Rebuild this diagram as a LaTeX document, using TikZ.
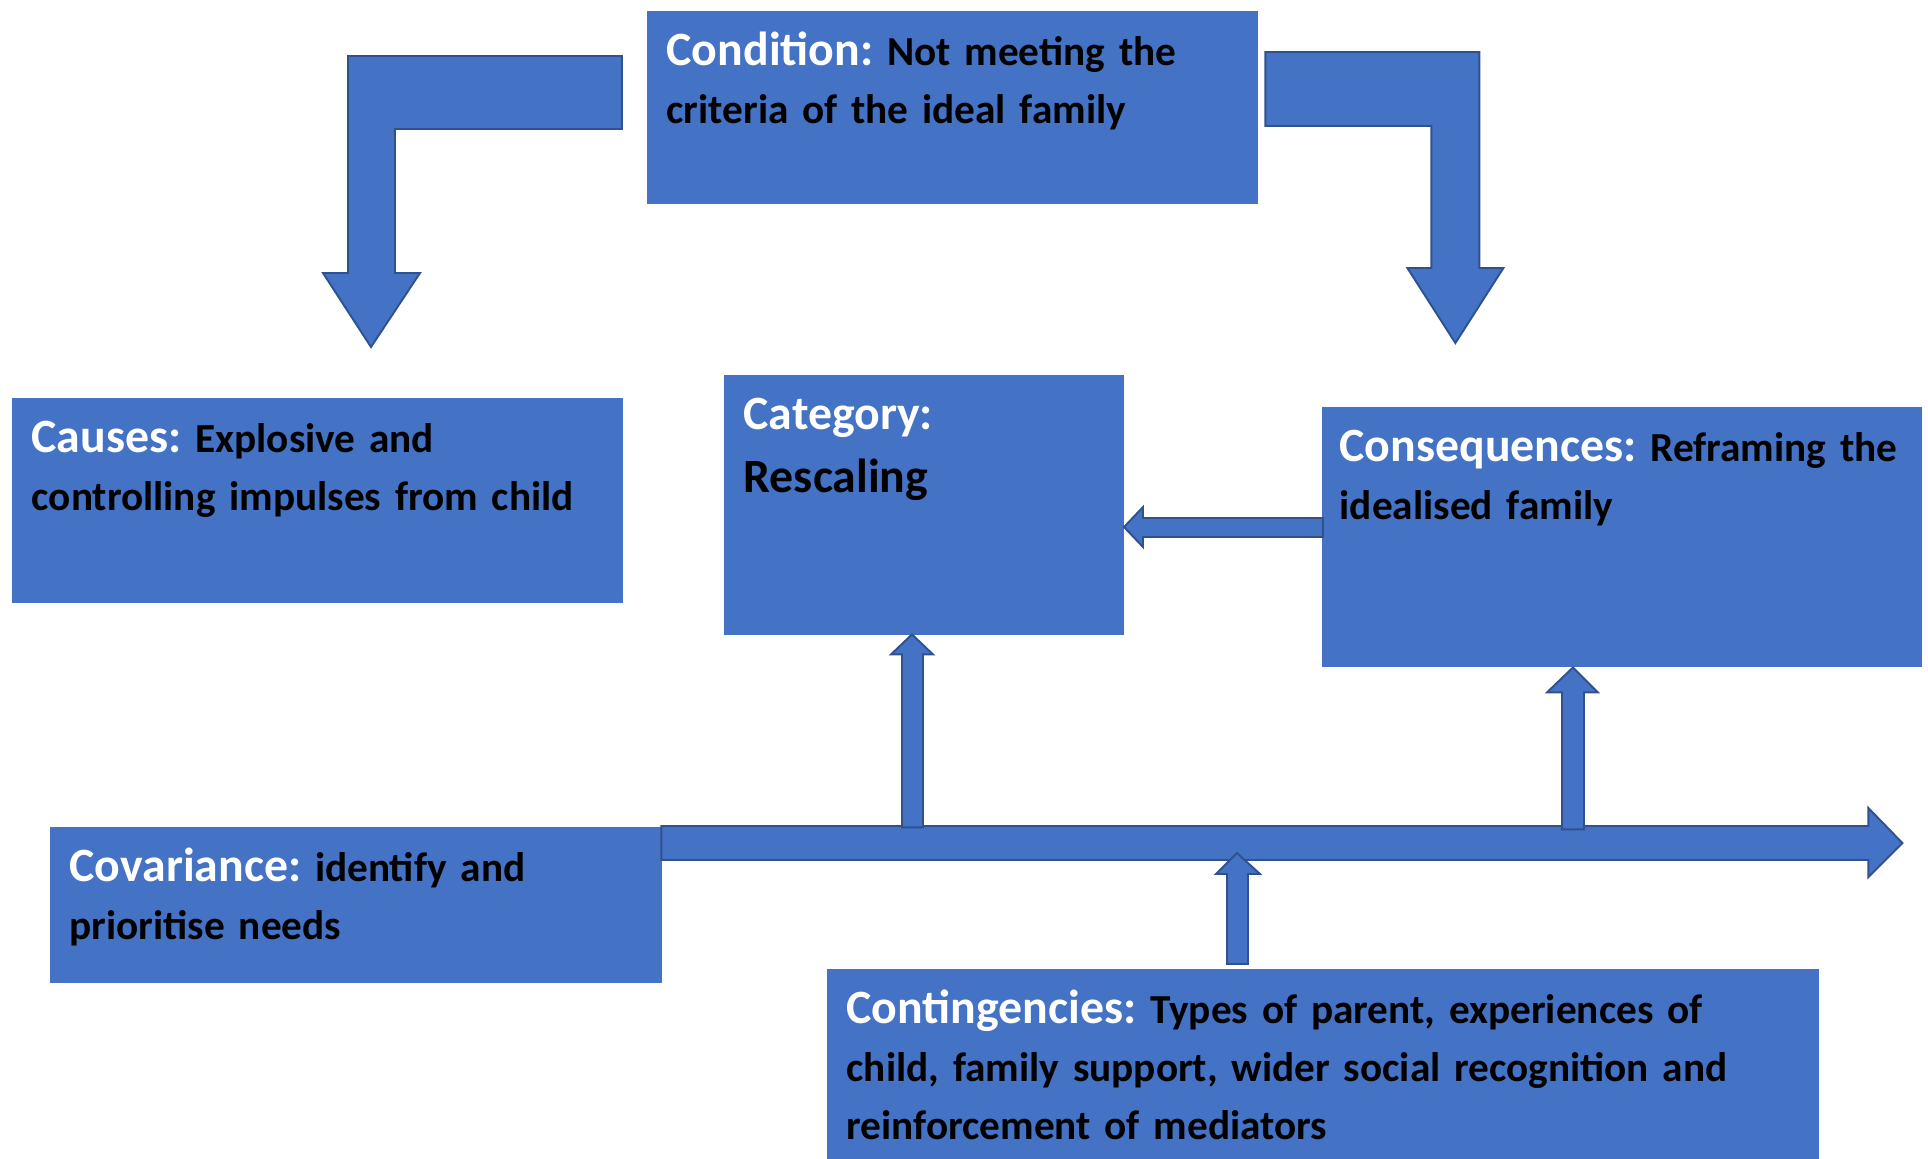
\documentclass[tikz,border=0pt]{standalone}
\usepackage{fontspec}
\setmainfont{Carlito}
\usepackage{tikz}
\usetikzlibrary{calc, positioning}
\definecolor{boxblue}{HTML}{4472C4}
\definecolor{edgeblue}{HTML}{2F528F}
\tikzstyle{box} = [rectangle, fill=boxblue, anchor=north west, inner xsep=2mm, inner ysep=0pt, text height=5.5mm, align=left, font=\frenchspacing\fontsize{11.75}{16.5}\selectfont\bfseries]
\tikzstyle{blockarrow} = [fill=boxblue, draw=edgeblue, line width=0.55pt, line join=miter]
\newcommand{\lbl}[1]{{\color{white}\fontsize{13.6}{16.5}\selectfont #1}}

\begin{document}
\begin{tikzpicture}[x=0.1mm, y=-0.1mm]
		\useasboundingbox (0,0) rectangle (1928,1158);

		\node (condition) [box, text width=57.1mm, text depth=13.8mm] at (646,10) {\lbl{Condition:} Not meeting the\\criteria of the ideal family};
		\node (causes) [box, text width=57.1mm, text depth=15.0mm] at (11,397) {\lbl{Causes:} Explosive and\\controlling impulses from child};
		\node (category) [box, text width=36mm, text depth=20.5mm] at (723,374) {\lbl{Category:}\\[0.5mm]{\fontsize{13.6}{16.5}\selectfont Rescaling}};
		\node (consequences) [box, inner xsep=1.8mm, text width=56.4mm, text depth=20.5mm] at (1321,406) {\lbl{Consequences:} Reframing the\\idealised family};
		\node (covariance) [box, text width=57.2mm, text depth=10.1mm] at (49,826) {\lbl{Covariance:} identify and\\prioritise needs};
		\node (contingencies) [box, text width=95.2mm, text depth=13.5mm] at (826,968) {\lbl{Contingencies:} Types of parent, experiences of\\child, family support, wider social recognition and\\reinforcement of mediators};

		% bent arrows from the condition
		\draw [blockarrow] ($(condition.north west)+(-24,46)$) -- ++(-274,0) -- ++(0,217) -- ++(-25,0) -- ++(48,74) -- ++(49,-74) -- ++(-25,0) -- ++(0,-144) -- ++(227,0) -- cycle;
		\draw [blockarrow] ($(condition.north east)+(7,42)$) -- ++(214,0) -- ++(0,216) -- ++(24,0) -- ++(-48,75) -- ++(-48,-75) -- ++(24,0) -- ++(0,-142) -- ++(-166,0) -- cycle;

		% consequences to category
		\draw [blockarrow] ($(consequences.north west)+(2,112)$) -- ++(-180,0) -- ++(0,-11) -- ++(-19,20) -- ++(19,20) -- ++(0,-10) -- ++(180,0) -- cycle;

		% covariance line
		\draw [blockarrow] ($(covariance.north east)+(-1,0)$) -- ++(1207,0) -- ++(0,-18) -- ++(34,35) -- ++(-34,34) -- ++(0,-17) -- ++(-1207,0) -- cycle;

		% up arrows
		\draw [blockarrow] ($(category.south west)+(179,192)$) -- ++(0,-173) -- ++(-11,0) -- ++(21,-20) -- ++(21,20) -- ++(-10,0) -- ++(0,173) -- cycle;
		\draw [blockarrow] ($(consequences.south west)+(241,162)$) -- ++(0,-137) -- ++(-15,0) -- ++(26,-25) -- ++(25,25) -- ++(-14,0) -- ++(0,137) -- cycle;
		\draw [blockarrow] ($(contingencies.north west)+(401,-4)$) -- ++(0,-90) -- ++(-11,0) -- ++(21,-21) -- ++(23,21) -- ++(-12,0) -- ++(0,90) -- cycle;
\end{tikzpicture}
\end{document}
